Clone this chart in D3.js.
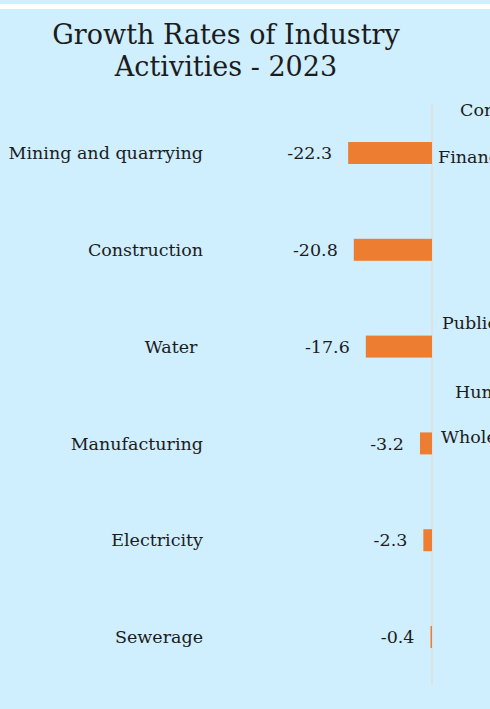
<!DOCTYPE html>
<html>
<head>
<meta charset="utf-8">
<script src="https://cdn.jsdelivr.net/npm/d3@7"></script>
<style>
  html, body { margin: 0; padding: 0; background: #cfeefe; overflow: hidden; }
  svg { display: block; font-family: "DejaVu Serif", serif; }
  svg text { white-space: pre; }
</style>
</head>
<body>
<svg id="chart" width="490" height="709"></svg>
<script>
// Growth rates (negative) by industry
const categories = ['Mining and quarrying', 'Construction', 'Water ', 'Manufacturing', 'Electricity', 'Sewerage']
const values = [-22.3, -20.8, -17.6, -3.2, -2.3, -0.4]
const titleLines = ['Growth Rates of Industry', 'Activities - 2023']
// labels of the neighbouring chart that spill in from the right
const sideLabels = ['Communication', 'Financial services', 'Public administration', 'Human health', 'Wholesale and retail']
const sideLabelY = [116, 163, 329, 398, 443]
const sideLabelX = [460, 438, 442, 455, 441]

const W = 490
const H = 709
const BAR_COLOR = '#ed7d31'
const TEXT_COLOR = '#1c1c1c'
const LABEL_SIZE = 17.5

const svg = d3.select('#chart')

svg.append('rect').attr('width', W).attr('height', H).attr('fill', '#cfeefe')
svg.append('rect').attr('y', 4).attr('width', W).attr('height', 5).attr('fill', '#ffffff')

const title = svg.append('text')
  .attr('text-anchor', 'middle')
  .attr('fill', TEXT_COLOR)
  .attr('font-size', 27)
titleLines.forEach((line, i) => {
  title.append('tspan').attr('x', 226).attr('y', 44 + i * 32).text(line)
})

const x = d3.scaleLinear().domain([-25, 0]).range([338, 432])
const y = d3.scaleBand()
  .domain(categories)
  .range([104.6, 685.4])
  .paddingInner(0.773)
  .paddingOuter(0.3865)

// zero line
svg.append('line')
  .attr('x1', x(0)).attr('x2', x(0))
  .attr('y1', 103).attr('y2', 685)
  .attr('stroke', '#ecd3c6')
  .attr('stroke-width', 1)

svg.append('g')
  .selectAll('rect')
  .data(values)
  .join('rect')
  .attr('x', d => x(d))
  .attr('y', (d, i) => y(categories[i]))
  .attr('width', d => x(0) - x(d))
  .attr('height', y.bandwidth())
  .attr('fill', BAR_COLOR)

const mid = (i) => y(categories[i]) + y.bandwidth() / 2

svg.append('g')
  .selectAll('text')
  .data(categories)
  .join('text')
  .attr('x', 203)
  .attr('y', (d, i) => mid(i))
  .attr('dy', '0.35em')
  .attr('text-anchor', 'end')
  .attr('font-size', LABEL_SIZE)
  .attr('fill', TEXT_COLOR)
  .text(d => d)

svg.append('g')
  .selectAll('text')
  .data(values)
  .join('text')
  .attr('x', d => x(d) - 16)
  .attr('y', (d, i) => mid(i))
  .attr('dy', '0.35em')
  .attr('text-anchor', 'end')
  .attr('font-size', LABEL_SIZE)
  .attr('fill', TEXT_COLOR)
  .text(d => d.toFixed(1))

svg.append('g')
  .selectAll('text')
  .data(sideLabels)
  .join('text')
  .attr('x', (d, i) => sideLabelX[i])
  .attr('y', (d, i) => sideLabelY[i])
  .attr('font-size', LABEL_SIZE)
  .attr('fill', TEXT_COLOR)
  .text(d => d)
</script>
</body>
</html>
